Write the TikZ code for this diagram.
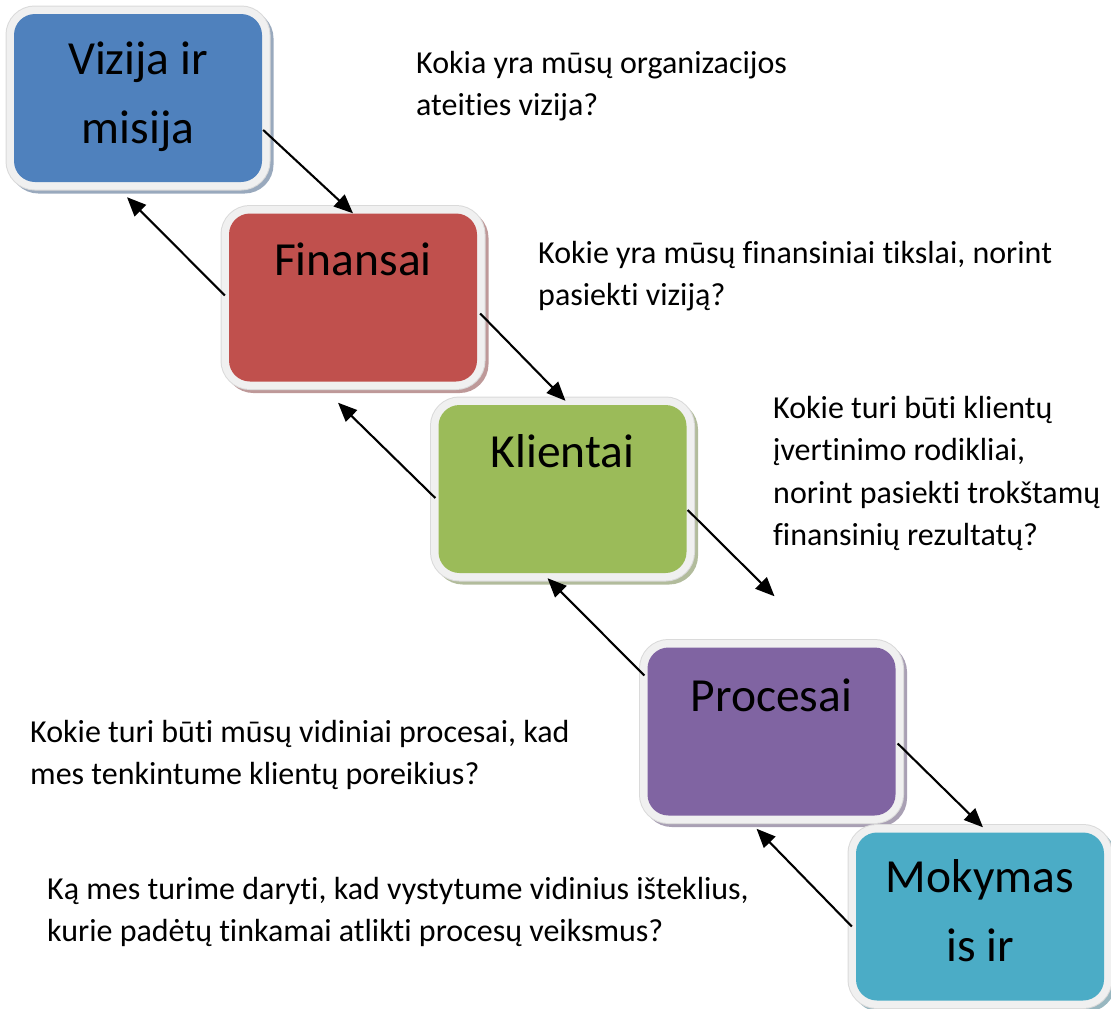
\documentclass[tikz,border=0pt]{standalone}
\usepackage{fontspec}
\setmainfont{Carlito}[Ligatures=NoCommon]
\usetikzlibrary{arrows.meta,calc}

% Office theme colours
\definecolor{cblue}{HTML}{4F81BD}
\definecolor{cred}{HTML}{C0504D}
\definecolor{cgreen}{HTML}{9BBB59}
\definecolor{cpurple}{HTML}{8064A2}
\definecolor{cteal}{HTML}{4BACC6}
\definecolor{framegrey}{HTML}{F0F0F0}
\definecolor{frameline}{HTML}{DADADA}

\tikzset{
  card/.style={
    rounded corners=21pt, minimum width=248pt, minimum height=168pt,
    inner sep=0pt, fill=#1,
    preaction={draw=#1!65!black!50!white, line width=16pt,
               transform canvas={shift={(3.5pt,-3.5pt)}}},
    preaction={draw=frameline, line width=17pt},
    preaction={draw=framegrey, line width=15pt}
  },
  % multi-line nodes: the base anchor sits on the last line
  cardtext/.style={anchor=base, align=center, inner sep=0pt,
    font=\fontsize{47.5}{69}\selectfont},
  question/.style={anchor=base west, align=left, inner sep=0pt,
    font=\fontsize{32}{42.5}\selectfont},
  link/.style={line width=2.1pt, -{Triangle[length=19pt,width=16pt]}}
}

\begin{document}
\begin{tikzpicture}[x=1pt,y=-1pt]
\useasboundingbox (0,0) rectangle (1111,1009);

% the five perspective cards
\node[card=cblue]   (viz) at (138,98)    {};
\node[card=cred]    (fin) at (353,297.5) {};
\node[card=cgreen]  (kli) at (562.5,489) {};
\node[card=cpurple] (pro) at (771.5,731.5) {};
\node[card=cteal]   (mok) at (980,916.5) {};

\node[cardtext] (vizt) at ($(viz.north)+(0,130)$) {Vizija ir\\misija};
\node[cardtext] (fint) at ($(fin.north)+(0,62)$)  {Finansai};
\node[cardtext] (klit) at ($(kli.north)+(0,63)$)  {Klientai};
\node[cardtext] (prot) at ($(pro.north)+(0,64)$)  {Procesai};
\node[cardtext] (mokt) at ($(mok.north)+(0,129)$) {Mokymas\\is ir};

% questions (positioned by the baseline of their last line)
\node[question] (q1) at (416,115.5) {Kokia yra mūsų organizacijos\\ateities vizija?};
\node[question] (q2) at (538,305.5) {Kokie yra mūsų finansiniai tikslai, norint\\pasiekti viziją?};
\node[question] (q3) at (773,545.5) {Kokie turi būti klientų\\įvertinimo rodikliai,\\norint pasiekti trokštamų\\finansinių rezultatų?};
\node[question] (q4) at (30,784.5)  {Kokie turi būti mūsų vidiniai procesai, kad\\mes tenkintume klientų poreikius?};
\node[question] (q5) at (47,941.5)  {Ką mes turime daryti, kad vystytume vidinius išteklius,\\kurie padėtų tinkamai atlikti procesų veiksmus?};

% downward links
\coordinate (kliout) at ($(pro.north)+(3,-51)$);
\draw[link] ($(viz.east)+(1,32)$)  -- (fin.north);
\draw[link] ($(fin.east)+(3,16)$)  -- ($(kli.north)+(3,-4)$);
\draw[link] ($(kli.east)+(1,21)$)  -- (kliout);
\draw[link] ($(pro.east)+(2,12)$)  -- ($(mok.north)+(3,-5)$);

% upward links
\draw[link] ($(fin.west)+(-4,-2)$) -- ($(viz.south)+(-11,15)$);
\draw[link] ($(kli.west)+(-3,9)$)  -- ($(fin.south)+(-15,21)$);
\draw[link] ($(pro.west)+(-3,-56)$) -- ($(kli.south)+(-15,5)$);
\draw[link] ($(mok.west)+(-4,10)$) -- ($(pro.south)+(-15,13)$);
\end{tikzpicture}
\end{document}
